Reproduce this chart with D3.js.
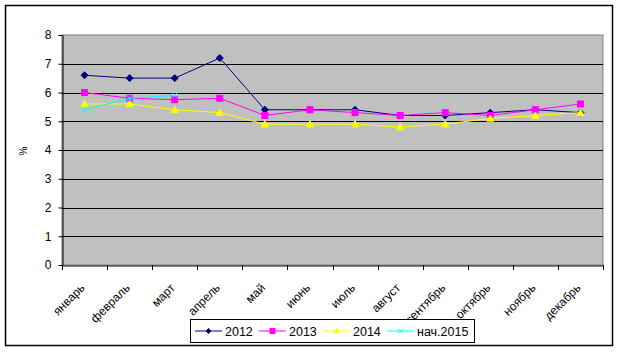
<!DOCTYPE html>
<html><head><meta charset="utf-8">
<script src="https://cdn.jsdelivr.net/npm/d3@7"></script>
<style>body{margin:0;background:#fff}svg{display:block}text{font-family:"Liberation Sans",Arial,sans-serif}</style>
</head><body><svg id="c" width="619" height="352"></svg>
<script>
const months = ["январь","февраль","март","апрель","май","июнь","июль","август","сентябрь","октябрь","ноябрь","декабрь"];
const s2012 = [6.6,6.5,6.5,7.2,5.4,5.4,5.4,5.2,5.2,5.3,5.4,5.3];
const s2013 = [6.0,5.8,5.75,5.8,5.2,5.4,5.3,5.2,5.3,5.2,5.4,5.6];
const s2014 = [5.6,5.6,5.4,5.3,4.9,4.9,4.9,4.8,4.9,5.1,5.2,5.3];
const s2015 = [5.4,5.8,5.9];
const yTicks = [0,1,2,3,4,5,6,7,8];
const seriesNames = ["2012","2013","2014","нач.2015"];

const series = [
  {name:seriesNames[0], values:s2012, color:"#000080", marker:"diamond"},
  {name:seriesNames[1], values:s2013, color:"#FF00FF", marker:"square"},
  {name:seriesNames[2], values:s2014, color:"#FFFF00", marker:"triangle"},
  {name:seriesNames[3], values:s2015, color:"#00FFFF", marker:"x"}
];

const svg = d3.select("#c");
const L=62, T=35, R=603, B=265;
svg.append("rect").attr("x",5.5).attr("y",5.5).attr("width",607).attr("height",340).attr("fill","#fff").attr("stroke","#000").attr("stroke-width",1.5);

const x = d3.scaleBand().domain(months).range([L,R]).padding(0);
const y = d3.scaleLinear().domain([0,8]).range([B,T]);

svg.append("rect").attr("x",L).attr("y",T).attr("width",R-L).attr("height",B-T).attr("fill","#C0C0C0").attr("stroke","#808080");

svg.append("g").selectAll("line").data(yTicks.slice(1,-1)).join("line")
  .attr("x1",L).attr("x2",R).attr("y1",d=>Math.round(y(d))+0.5).attr("y2",d=>Math.round(y(d))+0.5).attr("stroke","#000");

const ya = svg.append("g").attr("transform",`translate(${L+0.5},0)`)
  .call(d3.axisLeft(y).tickValues(yTicks).tickSize(4).tickPadding(7).tickSizeOuter(0));
ya.select(".domain").attr("stroke","#000");
ya.selectAll("text").attr("font-size",12).attr("fill","#000");

const xa = svg.append("g").attr("transform",`translate(0,${B+0.5})`)
  .call(d3.axisBottom(x).tickSize(0).tickSizeOuter(0));
xa.select(".domain").attr("stroke","#000");
xa.selectAll("text").attr("font-size",12).attr("fill","#000")
  .attr("x",0).attr("y",0).attr("dy",0)
  .attr("text-anchor","end").attr("transform","translate(1,23) rotate(-45)");
// boundary tick marks
svg.append("g").selectAll("line").data(months.concat(["_end"])).join("line")
  .attr("x1",(d,i)=>Math.round(L+i*x.bandwidth())+0.5).attr("x2",(d,i)=>Math.round(L+i*x.bandwidth())+0.5)
  .attr("y1",B).attr("y2",B+5).attr("stroke","#000");

svg.append("text").attr("transform","translate(27,151) rotate(-90)").attr("text-anchor","middle").attr("font-size",10).text("%");

function drawMarker(g, type, cx, cy, color, s){
  if(type==="diamond") g.append("path").attr("d",`M${cx},${cy-s}L${cx+s},${cy}L${cx},${cy+s}L${cx-s},${cy}Z`).attr("fill",color).attr("stroke",color);
  else if(type==="square") g.append("rect").attr("x",cx-s).attr("y",cy-s).attr("width",2*s).attr("height",2*s).attr("fill",color).attr("stroke",color);
  else if(type==="triangle") g.append("path").attr("d",`M${cx},${cy-s}L${cx+s},${cy+s*0.8}L${cx-s},${cy+s*0.8}Z`).attr("fill",color).attr("stroke",color);
  else if(type==="x") g.append("path").attr("d",`M${cx-s},${cy-s}L${cx+s},${cy+s}M${cx-s},${cy+s}L${cx+s},${cy-s}`).attr("stroke",color).attr("stroke-width",1);
}

const cx = m => x(m)+x.bandwidth()/2;
const line = d3.line().x((d,i)=>cx(months[i])).y(d=>y(d));
const sizes = {diamond:3.5, square:3, triangle:3.5, x:3};
series.forEach(s=>{
  const g = svg.append("g");
  g.append("path").attr("d",line(s.values)).attr("fill","none").attr("stroke",s.color).attr("stroke-width",1);
  s.values.forEach((v,i)=>drawMarker(g,s.marker,cx(months[i]),y(v),s.color,sizes[s.marker]));
});

// legend
const lg = svg.append("g");
lg.append("rect").attr("x",190.5).attr("y",319.5).attr("width",284).attr("height",23).attr("fill","#fff").attr("stroke","#000");
const lx = [195,259,323,387];
series.forEach((s,i)=>{
  const x0 = lx[i], yy = 331;
  lg.append("line").attr("x1",x0).attr("x2",x0+27).attr("y1",yy).attr("y2",yy).attr("stroke",s.color);
  drawMarker(lg,s.marker,x0+13.5,yy,s.color,2.5);
  lg.append("text").attr("x",x0+30).attr("y",yy+5).attr("font-size",12.5).text(s.name);
});
</script></body></html>
